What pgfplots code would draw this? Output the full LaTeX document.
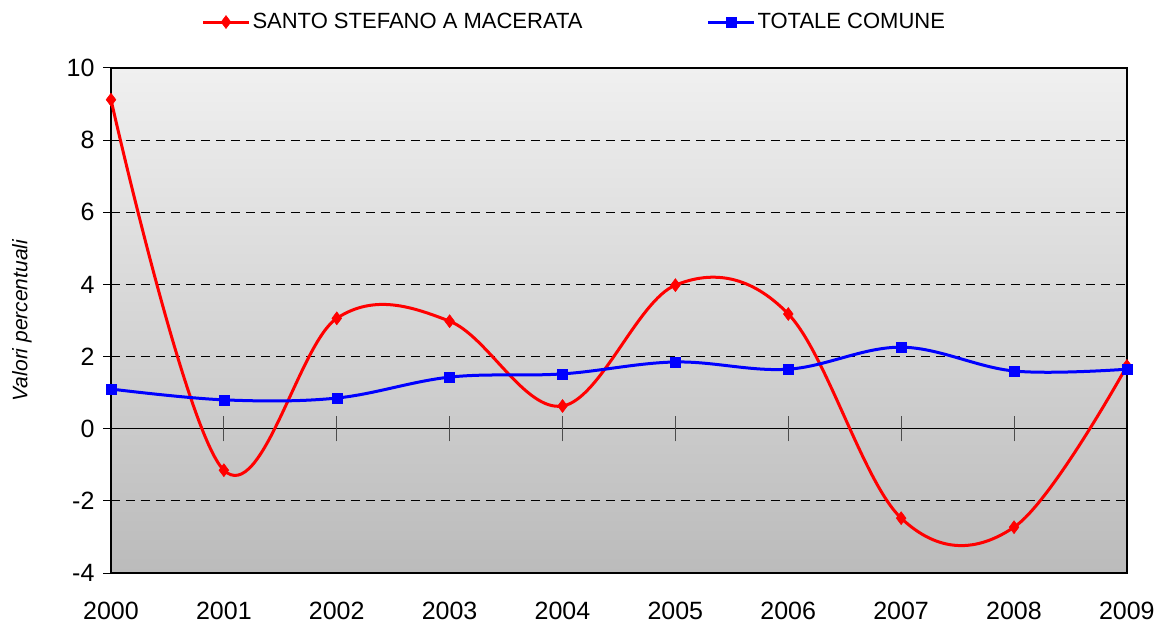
\documentclass[border=0pt]{standalone}
\usepackage{pgfplots}
\pgfplotsset{compat=1.18}
\usepackage{fontspec}
\setmainfont{Liberation Sans}
\definecolor{bgtop}{HTML}{F0F0F0}
\definecolor{bgbot}{HTML}{BBBBBB}
\begin{document}
\begin{tikzpicture}
\begin{axis}[
  scale only axis,
  width=1016pt, height=505pt,
  xmin=2000, xmax=2009, ymin=-4, ymax=10,
  axis background/.style={top color=bgtop, bottom color=bgbot},
  axis line style={black, line width=1.2pt},
  xtick={2000,...,2009},
  x tick label style={/pgf/number format/1000 sep={}, yshift=-18pt},
  y tick label style={xshift=-5pt},
  xtick style={draw=none},
  ytick={-4,-2,...,10},
  ytick pos=left,
  tick align=outside,
  ytick style={black, line width=1pt},
  major tick length=8pt,
  ymajorgrids,
  grid style={black, line width=0.9pt, dash pattern=on 9pt off 6pt},
  tick label style={font=\fontsize{25}{30}\selectfont},
  /pgf/number format/assume math mode=true,
  ylabel={\itshape Valori percentuali},
  ylabel style={font=\fontsize{21}{25}\selectfont, at={(rel axis cs:-0.0876,0.5)}, anchor=center},
  legend columns=2,
  legend style={at={(rel axis cs:0.456,1.091)}, anchor=center, draw=none, fill=none,
    font=\fontsize{22}{26}\selectfont, /tikz/every even column/.append style={column sep=122pt}},
  legend image code/.code={\draw[#1, mark repeat=2, mark phase=2] plot coordinates {(0pt,0pt) (23pt,0pt) (46pt,0pt)};},
]
\draw[black, line width=1pt] (axis cs:2000,0) -- (axis cs:2009,0);
\pgfplotsinvokeforeach{2001,...,2008}{
  \draw[black!70, line width=1pt] (axis cs:#1,-0.35) -- (axis cs:#1,0.35);
}
\addplot[red, line width=3pt, smooth, tension=0.6, mark=diamond*, mark size=6.5pt, mark options={solid, line width=0.5pt}]
coordinates {
(2000,9.12) (2001,-1.15) (2002,3.06) (2003,2.98) (2004,0.63)
(2005,3.98) (2006,3.18) (2007,-2.48) (2008,-2.73) (2009,1.74)
};
\addlegendentry{SANTO STEFANO A MACERATA}
\addplot[blue, line width=3pt, smooth, tension=0.6, mark=square*, mark size=5pt, mark options={solid, line width=0.5pt}]
coordinates {
(2000,1.10) (2001,0.80) (2002,0.85) (2003,1.43) (2004,1.52)
(2005,1.85) (2006,1.65) (2007,2.26) (2008,1.60) (2009,1.65)
};
\addlegendentry{TOTALE COMUNE}
\end{axis}
\pgfresetboundingbox
\path (-111pt,-50pt) rectangle (1044pt,573pt);
\end{tikzpicture}
\end{document}
